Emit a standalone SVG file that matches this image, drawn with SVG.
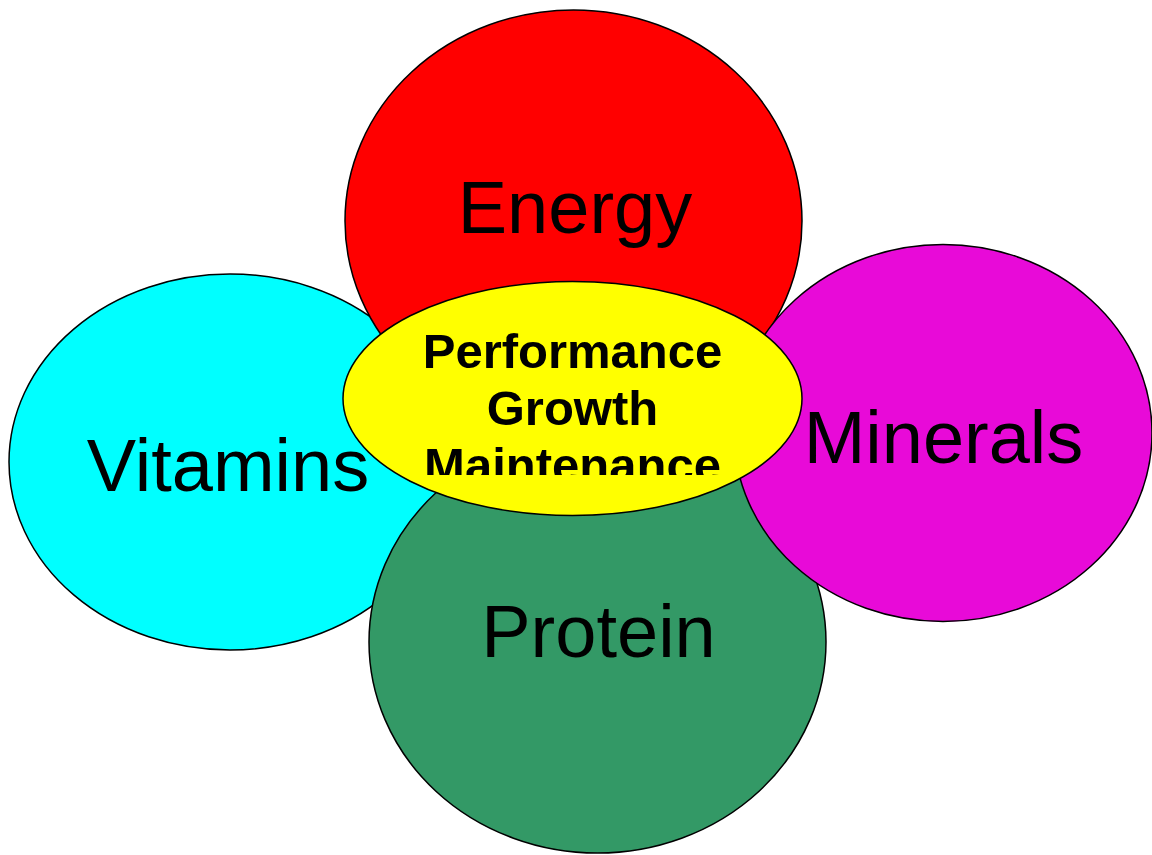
<svg xmlns="http://www.w3.org/2000/svg" width="1152" height="855" viewBox="0 0 1152 855">
<style>
.shape{stroke:#000;stroke-width:1.5}
.lbl{font-family:"Liberation Sans",Arial,sans-serif;font-size:74px;fill:#000;text-anchor:middle}
.ctr{font-family:"Liberation Sans",Arial,sans-serif;font-size:49px;font-weight:bold;fill:#000;text-anchor:middle}
</style>
<defs>
<clipPath id="centerClip"><rect x="342" y="282" width="460" height="193"/></clipPath>
</defs>
<rect width="1152" height="855" fill="#fff"/>
<g id="connectors"></g>
<g id="vitamins">
<ellipse class="shape" cx="230" cy="462" rx="221" ry="188" fill="#00FFFF"/>
<text class="lbl" x="228" y="491">Vitamins</text>
</g>
<g id="energy">
<ellipse class="shape" cx="573.5" cy="221" rx="228.5" ry="211" fill="#FF0000"/>
<text class="lbl" x="575" y="233">Energy</text>
</g>
<g id="protein">
<ellipse class="shape" cx="597.5" cy="642" rx="228.5" ry="211" fill="#339966"/>
<text class="lbl" x="598.5" y="657">Protein</text>
</g>
<g id="minerals">
<ellipse class="shape" cx="943" cy="433" rx="209" ry="188.5" fill="#E80AD8"/>
<text class="lbl" x="943.5" y="463">Minerals</text>
</g>
<g id="center">
<ellipse class="shape" cx="572.5" cy="398.5" rx="229.5" ry="117" fill="#FFFF00"/>
<g clip-path="url(#centerClip)">
<text class="ctr" x="572.5" y="368">Performance</text>
<text class="ctr" x="572.5" y="425">Growth</text>
<text class="ctr" x="572.5" y="482">Maintenance</text>
</g>
</g>
</svg>
